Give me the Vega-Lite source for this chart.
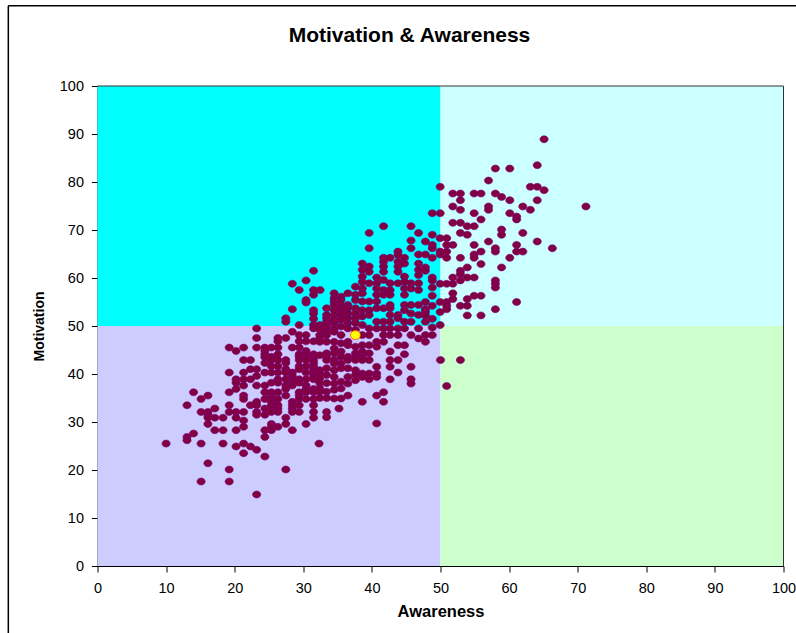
{"$schema":"https://vega.github.io/schema/vega-lite/v6.json","width":686,"height":480,"autosize":{"type":"none"},"padding":{"left":97.5,"top":86,"right":12.5,"bottom":67},"background":"white","view":{"stroke":null},
"title":{"text":"Motivation & Awareness","font":"Liberation Sans","fontSize":21,"fontWeight":"bold","color":"black","anchor":"middle","frame":"group","dx":-31,"offset":-41},
"datasets":{"one":[{"n":1}],"zones":[{"x0":0,"x1":50,"y0":50,"y1":100,"zone":"#00FFFF"},{"x0":50,"x1":100,"y0":50,"y1":100,"zone":"#CCFFFF"},{"x0":0,"x1":50,"y0":0,"y1":50,"zone":"#CCCCFF"},{"x0":50,"x1":100,"y0":0,"y1":50,"zone":"#CCFFCC"}],
"mean":[{"a":37.6,"m":48.1}],
"pts":[{"a":10,"m":25.5},{"a":13.05,"m":33.5},{"a":14,"m":36.2},{"a":15.1,"m":34.8},{"a":16.1,"m":35.5},{"a":14,"m":27.6},{"a":13.05,"m":26.9},{"a":13.05,"m":26.2},{"a":15.1,"m":25.5},{"a":15.1,"m":32.1},{"a":16.1,"m":32.1},{"a":16.1,"m":31.5},{"a":16.1,"m":30.9},{"a":17.1,"m":32.8},{"a":17.1,"m":30.9},{"a":18.3,"m":30.9},{"a":16.1,"m":29.6},{"a":17.1,"m":28.3},{"a":18.3,"m":28.3},{"a":18.3,"m":25.5},{"a":19.2,"m":36.2},{"a":19.2,"m":40.3},{"a":19.2,"m":45.5},{"a":20.2,"m":44.8},{"a":21.3,"m":45.5},{"a":21.3,"m":42.9},{"a":22.3,"m":42.9},{"a":22.3,"m":41},{"a":23.2,"m":41},{"a":21.3,"m":40.3},{"a":20.2,"m":38.9},{"a":21.3,"m":38.9},{"a":22.3,"m":38.9},{"a":23.2,"m":39.6},{"a":20.2,"m":38.2},{"a":21.3,"m":37.6},{"a":23.2,"m":37.6},{"a":20.2,"m":36.9},{"a":19.2,"m":33.5},{"a":21.3,"m":35.5},{"a":21.3,"m":34.8},{"a":19.2,"m":32.1},{"a":20.2,"m":32.1},{"a":21.3,"m":32.1},{"a":22.3,"m":33.5},{"a":23.2,"m":33.5},{"a":23.2,"m":34.2},{"a":23.2,"m":32.1},{"a":23.2,"m":31.5},{"a":20.2,"m":30.9},{"a":21.3,"m":30.3},{"a":21.3,"m":29},{"a":20.2,"m":28.3},{"a":19.2,"m":20.1},{"a":16.1,"m":21.4},{"a":15.1,"m":17.6},{"a":19.2,"m":17.6},{"a":23.2,"m":14.9},{"a":20.2,"m":24.9},{"a":21.3,"m":25.5},{"a":22.3,"m":24.9},{"a":23.2,"m":24.2},{"a":21.3,"m":23.5},{"a":24.4,"m":22.8},{"a":24.4,"m":26.9},{"a":24.4,"m":28.3},{"a":25.35,"m":28.3},{"a":25.35,"m":29.6},{"a":25.35,"m":29},{"a":26.3,"m":29},{"a":27.45,"m":30.9},{"a":27.45,"m":29.6},{"a":28.4,"m":28.3},{"a":30.4,"m":29.6},{"a":27.45,"m":20.1},{"a":32.3,"m":25.5},{"a":31.5,"m":30.9},{"a":31.5,"m":32.1},{"a":31.5,"m":33.5},
{"a":24.4,"m":45.5},{"a":24.4,"m":44.8},{"a":24.4,"m":44.1},{"a":24.4,"m":43.5},{"a":24.4,"m":42.3},{"a":24.4,"m":40.3},{"a":24.4,"m":37.6},{"a":24.4,"m":36.2},{"a":24.4,"m":34.8},{"a":24.4,"m":32.8},{"a":24.4,"m":31.5},
{"a":25.35,"m":45.5},{"a":25.35,"m":43.6},{"a":25.35,"m":42.9},{"a":25.35,"m":41.6},{"a":25.35,"m":40.3},{"a":25.35,"m":38.2},{"a":25.35,"m":36.2},{"a":25.35,"m":35.5},{"a":25.35,"m":34.8},{"a":25.35,"m":34.2},{"a":25.35,"m":33.5},{"a":25.35,"m":32.8},{"a":25.35,"m":32.1},
{"a":26.3,"m":47.5},{"a":26.3,"m":46.8},{"a":26.3,"m":45.5},{"a":26.3,"m":44.1},{"a":26.3,"m":42.9},{"a":26.3,"m":41.6},{"a":26.3,"m":40.3},{"a":26.3,"m":38.9},{"a":26.3,"m":38.2},{"a":26.3,"m":36.2},{"a":26.3,"m":34.8},{"a":26.3,"m":33.5},{"a":26.3,"m":32.8},{"a":26.3,"m":32.1},
{"a":27.45,"m":47.5},{"a":27.45,"m":42.9},{"a":27.45,"m":42.3},{"a":27.45,"m":41},{"a":27.45,"m":40.3},{"a":27.45,"m":38.9},{"a":27.45,"m":37.6},{"a":27.45,"m":36.9},{"a":27.45,"m":35.5},
{"a":28.4,"m":48.8},{"a":28.4,"m":45.5},{"a":28.4,"m":40.3},{"a":28.4,"m":39.6},{"a":28.4,"m":38.9},{"a":28.4,"m":38.2},{"a":28.4,"m":37.6},{"a":28.4,"m":34.2},{"a":28.4,"m":33.5},{"a":28.4,"m":32.8},{"a":28.4,"m":32.1},
{"a":29.4,"m":48.1},{"a":29.4,"m":46.8},{"a":29.4,"m":45.5},{"a":29.4,"m":44.1},{"a":29.4,"m":43.6},{"a":29.4,"m":42.9},{"a":29.4,"m":41.6},{"a":29.4,"m":41},{"a":29.4,"m":38.9},{"a":29.4,"m":38.2},{"a":29.4,"m":36.2},{"a":29.4,"m":35.5},{"a":29.4,"m":34.8},{"a":29.4,"m":33.5},{"a":29.4,"m":32.1},
{"a":30.4,"m":48.1},{"a":30.4,"m":46.8},{"a":30.4,"m":44.8},{"a":30.4,"m":44.1},{"a":30.4,"m":43.6},{"a":30.4,"m":42.9},{"a":30.4,"m":41.6},{"a":30.4,"m":40.3},{"a":30.4,"m":38.9},{"a":30.4,"m":37.6},{"a":30.4,"m":36.9},{"a":30.4,"m":36.2},{"a":30.4,"m":34.8},
{"a":31.5,"m":53.3},{"a":31.5,"m":51.5},{"a":31.5,"m":50.2},{"a":31.5,"m":49.5},{"a":31.5,"m":46.8},{"a":31.5,"m":44.1},{"a":31.5,"m":43.6},{"a":31.5,"m":42.9},{"a":31.5,"m":42.3},{"a":31.5,"m":41.6},{"a":31.5,"m":41},{"a":31.5,"m":40.3},{"a":31.5,"m":39.6},{"a":31.5,"m":38.9},{"a":31.5,"m":36.9},{"a":31.5,"m":36.2},{"a":31.5,"m":34.8},{"a":31.5,"m":61.5},{"a":31.5,"m":57.5},{"a":31.5,"m":56.5},{"a":31.5,"m":52.6},
{"a":28.4,"m":53.5},{"a":30.4,"m":54.9},{"a":27.45,"m":51.6},{"a":27.45,"m":50.9},{"a":29.4,"m":50.2},{"a":23.2,"m":49.5},{"a":23.2,"m":47.5},{"a":23.2,"m":45.5},{"a":28.4,"m":58.8},{"a":30.4,"m":59.5},{"a":29.4,"m":57.5},{"a":30.4,"m":55.4},{"a":32.45,"m":57.5},
{"a":32.4,"m":50.2},{"a":32.4,"m":49.3},{"a":32.4,"m":48.1},{"a":32.4,"m":47.4},{"a":32.4,"m":46.7},{"a":32.4,"m":43.9},{"a":32.4,"m":40.8},{"a":32.4,"m":40.1},{"a":32.4,"m":39.1},{"a":32.4,"m":38.1},{"a":32.4,"m":37},{"a":32.4,"m":36.3},{"a":32.4,"m":35},
{"a":33.4,"m":53.7},{"a":33.4,"m":52.3},{"a":33.4,"m":51.6},{"a":33.4,"m":50.9},{"a":33.4,"m":50.2},{"a":33.4,"m":49.5},{"a":33.4,"m":48.8},{"a":33.4,"m":48.1},{"a":33.4,"m":46.7},{"a":33.4,"m":44.3},{"a":33.4,"m":43.6},{"a":33.4,"m":42.9},{"a":33.4,"m":41.2},{"a":33.4,"m":39.8},{"a":33.4,"m":38.1},{"a":33.4,"m":36.3},{"a":33.4,"m":35},{"a":33.4,"m":32.1},{"a":33.4,"m":31},
{"a":34.5,"m":56.8},{"a":34.5,"m":55.8},{"a":34.5,"m":55.1},{"a":34.5,"m":54.4},{"a":34.5,"m":53.3},{"a":34.5,"m":52.3},{"a":34.5,"m":51.3},{"a":34.5,"m":50.6},{"a":34.5,"m":49.5},{"a":34.5,"m":48.8},{"a":34.5,"m":46.7},{"a":34.5,"m":45.3},{"a":34.5,"m":44.3},{"a":34.5,"m":42.9},{"a":34.5,"m":42.2},{"a":34.5,"m":40.8},{"a":34.5,"m":39.4},{"a":34.5,"m":38},{"a":34.5,"m":36.7},{"a":34.5,"m":34.9},
{"a":35.5,"m":56.1},{"a":35.5,"m":55.4},{"a":35.5,"m":54.4},{"a":35.5,"m":53.7},{"a":35.5,"m":53},{"a":35.5,"m":52.3},{"a":35.5,"m":51.3},{"a":35.5,"m":49.9},{"a":35.5,"m":48.1},{"a":35.5,"m":46.4},{"a":35.5,"m":44.7},{"a":35.5,"m":43.6},{"a":35.5,"m":42.2},{"a":35.5,"m":41.2},{"a":35.5,"m":38.4},{"a":35.5,"m":37},{"a":35.5,"m":34.9},{"a":35.2,"m":32.8},
{"a":36.5,"m":56.8},{"a":36.5,"m":54.4},{"a":36.5,"m":53.7},{"a":36.5,"m":52.6},{"a":36.5,"m":51.6},{"a":36.5,"m":50.6},{"a":36.5,"m":49.5},{"a":36.5,"m":46.7},{"a":36.5,"m":46},{"a":36.5,"m":43.6},{"a":36.5,"m":42.9},{"a":36.5,"m":41.2},{"a":36.5,"m":39.4},{"a":36.5,"m":38},{"a":36.5,"m":35.5},
{"a":37.6,"m":58.2},{"a":37.6,"m":56.5},{"a":37.6,"m":55.4},{"a":37.6,"m":53.7},{"a":37.6,"m":52.6},{"a":37.6,"m":51.6},{"a":37.6,"m":50.6},{"a":37.6,"m":49.2},{"a":37.6,"m":45.7},{"a":37.6,"m":44.3},{"a":37.6,"m":43.6},{"a":37.6,"m":42.9},{"a":37.6,"m":40.8},{"a":37.6,"m":39.8},{"a":37.6,"m":38.7},
{"a":38.6,"m":63},{"a":38.6,"m":61.7},{"a":38.6,"m":60.3},{"a":38.6,"m":59.2},{"a":38.6,"m":57.8},{"a":38.6,"m":56.8},{"a":38.6,"m":55.1},{"a":38.6,"m":53.3},{"a":38.6,"m":52},{"a":38.6,"m":50.2},{"a":38.6,"m":48.1},{"a":38.6,"m":46},{"a":38.6,"m":44.7},{"a":38.6,"m":43.6},{"a":38.6,"m":42.9},{"a":38.6,"m":40.1},{"a":38.6,"m":39.4},{"a":38.6,"m":34.2},
{"a":39.6,"m":69.4},{"a":39.6,"m":66.2},{"a":39.6,"m":62.4},{"a":39.6,"m":61.3},{"a":39.6,"m":58.9},{"a":39.6,"m":55.1},{"a":39.6,"m":53.3},{"a":39.6,"m":52.3},{"a":39.6,"m":49.5},{"a":39.6,"m":48.1},{"a":39.6,"m":46},{"a":39.6,"m":44.3},{"a":39.6,"m":42.9},{"a":39.6,"m":40.1},{"a":39.6,"m":38.9},
{"a":40.7,"m":60.1},{"a":40.7,"m":58.9},{"a":40.7,"m":57.8},{"a":40.7,"m":56.5},{"a":40.7,"m":55.1},{"a":40.7,"m":53.7},{"a":40.7,"m":50.9},{"a":40.7,"m":49.5},{"a":40.7,"m":46.7},{"a":40.7,"m":45.7},{"a":40.7,"m":41.5},{"a":40.7,"m":40.1},{"a":40.7,"m":39.4},{"a":40.7,"m":35.5},{"a":40.7,"m":29.7},
{"a":41.7,"m":70.8},{"a":41.7,"m":64.2},{"a":41.7,"m":63.4},{"a":41.7,"m":62.4},{"a":41.7,"m":61.3},{"a":41.7,"m":59.6},{"a":41.7,"m":57.5},{"a":41.7,"m":56.5},{"a":41.7,"m":53.7},{"a":41.7,"m":50.9},{"a":41.7,"m":49.5},{"a":41.7,"m":48.1},{"a":41.7,"m":46.7},{"a":41.7,"m":36.2},{"a":41.7,"m":34.2},
{"a":42.65,"m":64.2},{"a":42.65,"m":58.9},{"a":42.65,"m":57.5},{"a":42.65,"m":56.5},{"a":42.65,"m":54.4},{"a":42.65,"m":53.7},{"a":42.65,"m":52.3},{"a":42.65,"m":50.9},{"a":42.65,"m":49.5},{"a":42.65,"m":48.1},{"a":42.65,"m":44.7},{"a":42.65,"m":42.9},{"a":42.65,"m":41.5},{"a":42.65,"m":38.9},
{"a":43.8,"m":65.5},{"a":43.8,"m":64.8},{"a":43.8,"m":63.4},{"a":43.8,"m":62.4},{"a":43.8,"m":61.3},{"a":43.8,"m":58.9},{"a":43.8,"m":52.3},{"a":43.8,"m":51.6},{"a":43.8,"m":49.5},{"a":43.8,"m":48.1},{"a":43.8,"m":46},{"a":43.8,"m":42.9},{"a":43.8,"m":40.3},
{"a":44.75,"m":64.2},{"a":44.75,"m":63},{"a":44.75,"m":60.3},{"a":44.75,"m":59.2},{"a":44.75,"m":57.8},{"a":44.75,"m":56.5},{"a":44.75,"m":54.4},{"a":44.75,"m":53.3},{"a":44.75,"m":50.9},{"a":44.75,"m":49.5},{"a":44.75,"m":46},{"a":44.75,"m":44.1},
{"a":45.7,"m":70.8},{"a":45.7,"m":67.8},{"a":45.7,"m":66.2},{"a":45.7,"m":58.9},{"a":45.7,"m":57.8},{"a":45.7,"m":54.4},{"a":45.7,"m":52.6},{"a":45.7,"m":50.9},{"a":45.7,"m":48.1},{"a":45.7,"m":41.5},{"a":45.7,"m":38.9},{"a":45.7,"m":38},
{"a":46.8,"m":69.4},{"a":46.8,"m":64.9},{"a":46.8,"m":63},{"a":46.8,"m":61.7},{"a":46.8,"m":60.6},{"a":46.8,"m":58.9},{"a":46.8,"m":57.5},{"a":46.8,"m":54.4},{"a":46.8,"m":52.3},{"a":46.8,"m":49.5},{"a":46.8,"m":47.4},
{"a":47.8,"m":67.6},{"a":47.8,"m":64.9},{"a":47.8,"m":62.2},{"a":47.8,"m":61.5},{"a":47.8,"m":55},{"a":47.8,"m":53.5},{"a":47.8,"m":52.9},{"a":47.8,"m":52.2},{"a":47.8,"m":50.9},{"a":47.8,"m":48.1},{"a":47.8,"m":46.7},
{"a":48.8,"m":73.5},{"a":48.8,"m":69},{"a":48.8,"m":66.9},{"a":48.8,"m":66.2},{"a":48.8,"m":64.2},{"a":48.8,"m":60.1},{"a":48.8,"m":59.5},{"a":48.8,"m":58},{"a":48.8,"m":56.3},{"a":48.8,"m":54.2},{"a":48.8,"m":51.5},{"a":48.8,"m":49.7},{"a":48.8,"m":48.1},
{"a":65.1,"m":88.9},{"a":58,"m":82.8},{"a":60.1,"m":82.8},{"a":64.1,"m":83.5},{"a":57,"m":80.3},{"a":49.95,"m":79},{"a":63.1,"m":79},{"a":64.1,"m":79},{"a":65.1,"m":78.3},{"a":51.8,"m":77.6},{"a":52.9,"m":77.6},{"a":54.9,"m":77.6},{"a":55.9,"m":77.6},{"a":58,"m":77.6},{"a":58.9,"m":76.9},{"a":60.1,"m":76.2},{"a":64.1,"m":76.2},{"a":52.9,"m":76.2},{"a":51.8,"m":74.9},{"a":52.9,"m":74.2},{"a":57,"m":74.9},{"a":57,"m":74.2},{"a":62,"m":74.9},{"a":63.1,"m":74.2},{"a":71.2,"m":74.9},{"a":49.95,"m":73.5},{"a":54.9,"m":73.5},{"a":60.1,"m":73.5},{"a":61.1,"m":72.8},{"a":61.1,"m":72.2},{"a":55.9,"m":72.2},{"a":51.8,"m":71.5},{"a":52.9,"m":71.5},{"a":53.9,"m":70.8},{"a":54.9,"m":70.8},{"a":58.9,"m":70.1},{"a":58.9,"m":69},{"a":52.9,"m":69.4},{"a":53.9,"m":69},{"a":62,"m":69.4},{"a":49.95,"m":68.3},{"a":50.9,"m":68.3},{"a":57,"m":67.6},{"a":64.1,"m":67.6},{"a":50.9,"m":66.9},{"a":51.8,"m":66.9},{"a":54.9,"m":66.9},{"a":61.1,"m":66.9},{"a":66.3,"m":66.2},{"a":58,"m":66.2},{"a":58,"m":65.5},{"a":49.95,"m":65.5},{"a":49.95,"m":64.9},{"a":50.9,"m":65.5},{"a":55.9,"m":65.5},{"a":61.1,"m":65.5},{"a":62,"m":65.5},{"a":54.9,"m":64.9},{"a":54.9,"m":64.2},{"a":50.9,"m":64.2},{"a":52.9,"m":64.2},{"a":60.1,"m":64.2},{"a":55.9,"m":62.9},{"a":53.9,"m":62.2},{"a":58.9,"m":62.2},{"a":52.9,"m":61.5},{"a":52.9,"m":60.8},{"a":52.9,"m":59.5},{"a":51.8,"m":60.1},{"a":53.9,"m":60.1},{"a":54.9,"m":60.1},{"a":49.95,"m":58.8},{"a":50.9,"m":58.8},{"a":51.8,"m":58.8},{"a":58,"m":59.5},{"a":58,"m":58.8},{"a":58,"m":58},{"a":51.8,"m":56.8},{"a":51.8,"m":55.6},{"a":53.9,"m":55.6},{"a":54.9,"m":56.3},{"a":55.9,"m":56.3},{"a":61.1,"m":55},{"a":49.95,"m":55},{"a":50.9,"m":55},{"a":50.9,"m":54.2},{"a":50.9,"m":53.5},{"a":52.9,"m":54.2},{"a":53.9,"m":54.2},{"a":49.95,"m":52.9},{"a":58,"m":53.5},{"a":53.9,"m":52.2},{"a":55.9,"m":52.2},{"a":49.95,"m":50.2},{"a":50,"m":42.9},{"a":52.9,"m":42.9},{"a":50.9,"m":37.5}]},
"layer":[
{"data":{"name":"zones"},"mark":{"type":"rect"},"encoding":{"x":{"field":"x0","type":"quantitative","scale":{"domain":[0,100],"nice":false},"axis":{"title":"Awareness","values":[0,10,20,30,40,50,60,70,80,90,100],"grid":false,"domainColor":"black","tickColor":"black","tickSize":6,"labelPadding":9,"labelFont":"Liberation Sans","labelFontSize":14.5,"labelColor":"black","titleFont":"Liberation Sans","titleFontSize":16.5,"titleFontWeight":"bold","titleColor":"black","titlePadding":9,"labelOverlap":false,"labelFlush":false}},"x2":{"field":"x1"},"y":{"field":"y0","type":"quantitative","scale":{"domain":[0,100],"nice":false},"axis":{"title":"Motivation","values":[0,10,20,30,40,50,60,70,80,90,100],"grid":false,"domainColor":"black","tickColor":"black","tickSize":6,"labelPadding":8,"labelFont":"Liberation Sans","labelFontSize":14.5,"labelColor":"black","titleFont":"Liberation Sans","titleFontSize":14,"titleFontWeight":"bold","titleColor":"black","titlePadding":13,"labelOverlap":false,"labelFlush":false}},"y2":{"field":"y1"},"fill":{"field":"zone","type":"nominal","scale":null,"legend":null}}},
{"data":{"name":"one"},"mark":{"type":"rule","color":"#333333","strokeWidth":1},"encoding":{"x":{"datum":0},"x2":{"datum":100},"y":{"datum":100}}},
{"data":{"name":"one"},"mark":{"type":"rule","color":"#333333","strokeWidth":1},"encoding":{"x":{"datum":100},"y":{"datum":0},"y2":{"datum":100}}},
{"data":{"name":"one"},"mark":{"type":"rule","color":"black","strokeWidth":1.5,"clip":false},"encoding":{"x":{"datum":-13},"y":{"datum":116.7},"y2":{"datum":-14}}},
{"data":{"name":"one"},"mark":{"type":"rule","color":"black","strokeWidth":1.5,"clip":false},"encoding":{"x":{"datum":-13},"x2":{"datum":102},"y":{"datum":116.7}}},
{"data":{"name":"pts"},"mark":{"type":"point","filled":true,"shape":"M-1,0A1,0.85 0 1 1 1,0A1,0.85 0 1 1 -1,0Z","size":68,"fill":"#800040","stroke":"#800080","strokeWidth":0.6,"opacity":1},"encoding":{"x":{"field":"a","type":"quantitative"},"y":{"field":"m","type":"quantitative"}}},
{"data":{"name":"mean"},"mark":{"type":"point","filled":true,"shape":"M-1,0A1,0.9 0 1 1 1,0A1,0.9 0 1 1 -1,0Z","size":100,"fill":"#FFFF00","stroke":"#FF3300","strokeWidth":0.7,"opacity":1},"encoding":{"x":{"field":"a","type":"quantitative"},"y":{"field":"m","type":"quantitative"}}}
]}
